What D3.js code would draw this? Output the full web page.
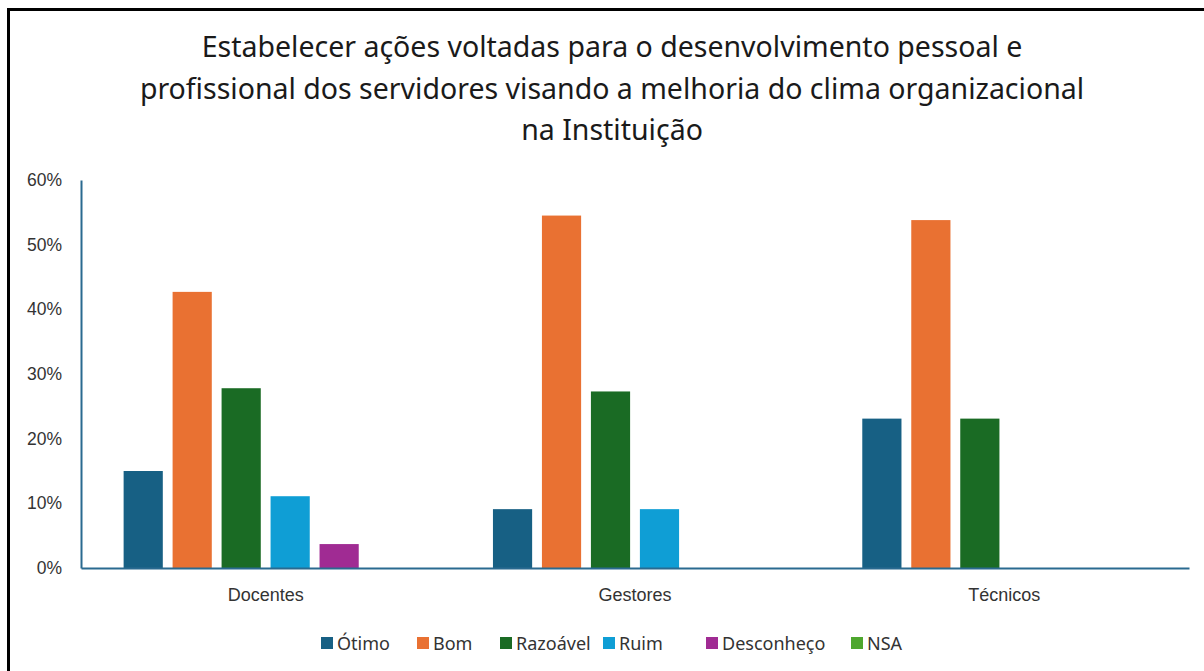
<!DOCTYPE html>
<html>
<head>
<meta charset="utf-8">
<script src="https://cdn.jsdelivr.net/npm/d3@7"></script>
<style>
  body { margin: 0; background: #fff; }
  svg { display: block; }
</style>
</head>
<body>
<svg id="chart" width="1204" height="671"></svg>
<script>
var titleLines = [
  "Estabelecer ações voltadas para o desenvolvimento pessoal e",
  "profissional dos servidores visando a melhoria do clima organizacional",
  "na Instituição"
];
var categories = ["Docentes", "Gestores", "Técnicos"];
var seriesNames = ["Ótimo", "Bom", "Razoável", "Ruim", "Desconheço", "NSA"];
var seriesColors = ["#176084", "#e97132", "#1a6b24", "#0f9ed5", "#a02b93", "#4ea72e"];
// values in %, one array per series (Docentes, Gestores, Técnicos)
var otimo = [15.0, 9.1, 23.1];
var bom = [42.7, 54.5, 53.8];
var razoavel = [27.8, 27.3, 23.1];
var ruim = [11.1, 9.1, 0];
var desconheco = [3.7, 0, 0];
var nsa = [0, 0, 0];
var yTicks = [0, 10, 20, 30, 40, 50, 60];

var seriesValues = [otimo, bom, razoavel, ruim, desconheco, nsa];

var svg = d3.select("#chart");

// frame
svg.append("rect")
  .attr("x", 8.5).attr("y", 9.5)
  .attr("width", 1220).attr("height", 700)
  .attr("fill", "none")
  .attr("stroke", "#000")
  .attr("stroke-width", 3);

// title
svg.append("g").selectAll("text")
  .data(titleLines)
  .join("text")
  .attr("x", 612)
  .attr("y", function(d, i) { return 57 + i * 41.5; })
  .attr("text-anchor", "middle")
  .attr("font-family", "'Noto Sans', sans-serif")
  .attr("font-size", 28.5)
  .attr("fill", "#1a1a1a")
  .text(function(d) { return d; });

var plotLeft = 81, plotRight = 1189, plotTop = 180, plotBottom = 568;

var x0 = d3.scaleBand().domain(categories).range([plotLeft, plotRight]);
var x1 = d3.scaleBand().domain(seriesNames)
  .range([0, x0.bandwidth()])
  .paddingInner(0.2)
  .paddingOuter(0.87);
var y = d3.scaleLinear().domain([0, 60]).range([plotBottom, plotTop]);

// bars
var groups = svg.append("g").selectAll("g")
  .data(seriesNames)
  .join("g")
  .attr("fill", function(d, i) { return seriesColors[i]; });

groups.selectAll("rect")
  .data(function(d, i) {
    return categories.map(function(c, j) { return { cat: c, s: d, v: seriesValues[i][j] }; })
      .filter(function(e) { return e.v > 0; });
  })
  .join("rect")
  .attr("x", function(d) { return x0(d.cat) + x1(d.s); })
  .attr("width", x1.bandwidth())
  .attr("y", function(d) { return y(d.v); })
  .attr("height", function(d) { return plotBottom - y(d.v); });

// y axis
var yAxis = svg.append("g")
  .attr("transform", "translate(" + plotLeft + ",0)")
  .call(d3.axisLeft(y).tickValues(yTicks).tickSize(0).tickPadding(19)
    .tickFormat(function(d) { return d + "%"; }));
yAxis.select(".domain").attr("stroke", "#2a6a90").attr("stroke-width", 2);
yAxis.selectAll("text")
  .attr("font-family", "'Liberation Sans', Arial, sans-serif")
  .attr("font-size", 17.5)
  .attr("fill", "#333");

// x axis
var xAxis = svg.append("g")
  .attr("transform", "translate(0," + plotBottom + ")")
  .call(d3.axisBottom(x0).tickSize(0).tickPadding(20));
xAxis.select(".domain").attr("stroke", "#2a6a90").attr("stroke-width", 2);
xAxis.selectAll("text")
  .attr("font-family", "'Liberation Sans', Arial, sans-serif")
  .attr("font-size", 18)
  .attr("fill", "#333");

// legend
var legendX = [321, 417, 500, 603, 706, 851];
var legend = svg.append("g").selectAll("g")
  .data(seriesNames)
  .join("g")
  .attr("transform", function(d, i) { return "translate(" + legendX[i] + ",643)"; });
legend.append("rect")
  .attr("x", 0).attr("y", -6)
  .attr("width", 12).attr("height", 12)
  .attr("fill", function(d, i) { return seriesColors[i]; });
legend.append("text")
  .attr("x", 16).attr("y", 6.5)
  .attr("font-family", "'Noto Sans', sans-serif")
  .attr("font-size", 18)
  .attr("fill", "#333")
  .text(function(d) { return d; });
</script>
</body>
</html>
